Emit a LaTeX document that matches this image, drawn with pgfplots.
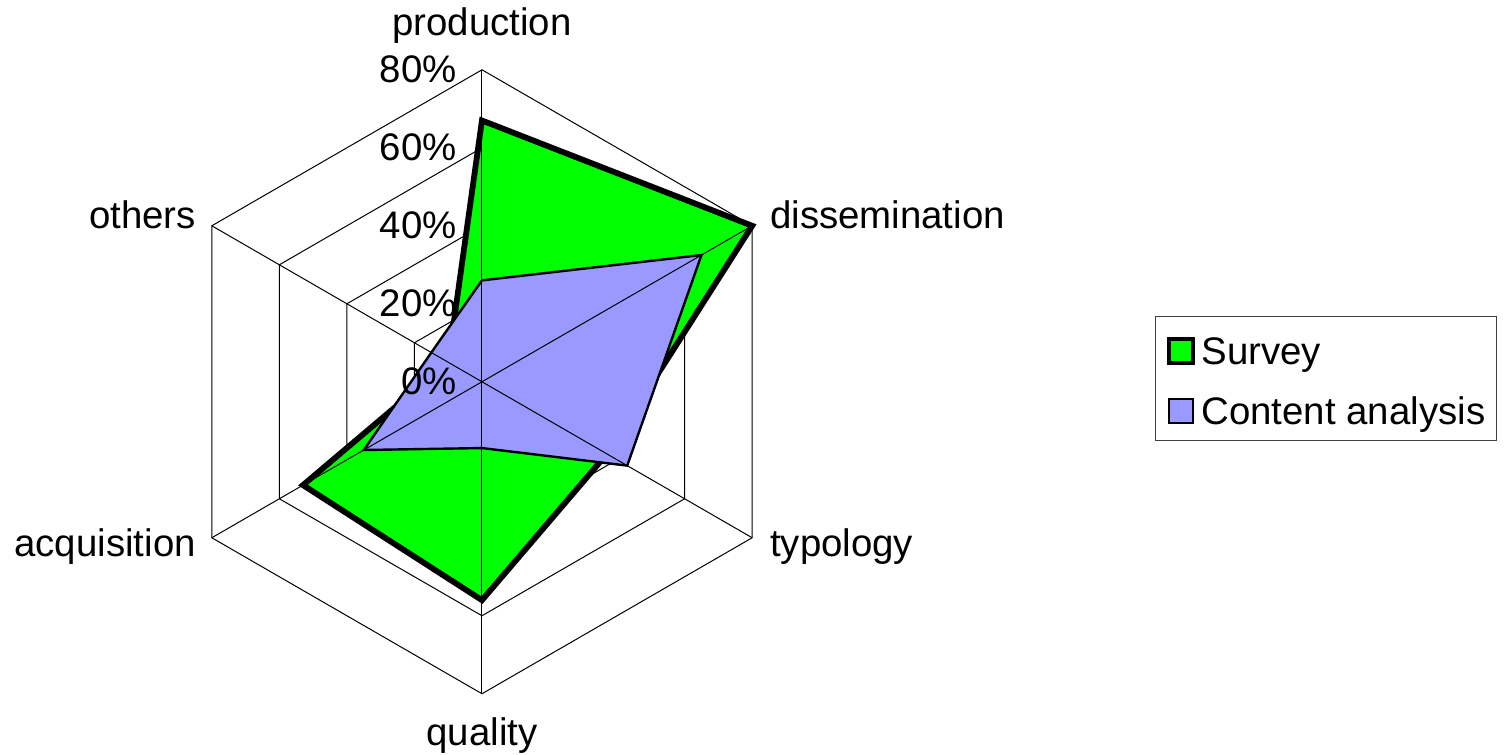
\documentclass[border=0pt]{standalone}
\usepackage{fontspec}
\setmainfont{Liberation Sans}
\usepackage{pgfplots}
\pgfplotsset{compat=1.18}
\definecolor{survey}{HTML}{00FF00}
\definecolor{content}{HTML}{9999FF}
\newcommand{\lbl}{\fontsize{19.2pt}{23pt}\selectfont}
\pgfplotsset{gridline/.style={black, line width=0.5pt, data cs=polar, forget plot, mark=none}}
\begin{document}
\begin{tikzpicture}
\begin{axis}[
  x=1.95pt, y=1.95pt,
  xmin=-123.6, xmax=262.6, ymin=-95.6, ymax=97.9,
  hide axis, clip=false,
  legend style={at={(axis cs:172.6,16.9)}, anchor=north west, draw=black!75, line width=0.5pt,
    font=\lbl, inner xsep=5.5pt, inner ysep=8pt, row sep=13.5pt, column sep=3.5pt,
    cells={anchor=base west}, nodes={inner sep=0pt, text height=16pt, text depth=0pt}},
]
\coordinate (ll) at (axis cs:-123.6,-95.6);
\coordinate (ur) at (axis cs:262.6,97.9);
% hexagonal grid
\addplot[gridline] coordinates {(90,20) (30,20) (-30,20) (-90,20) (-150,20) (150,20)} -- cycle;
\addplot[gridline] coordinates {(90,40) (30,40) (-30,40) (-90,40) (-150,40) (150,40)} -- cycle;
\addplot[gridline] coordinates {(90,60) (30,60) (-30,60) (-90,60) (-150,60) (150,60)} -- cycle;
\addplot[gridline] coordinates {(90,80) (30,80) (-30,80) (-90,80) (-150,80) (150,80)} -- cycle;
% series (angle, percent): production, dissemination, typology, quality, acquisition, others
\addplot[fill=survey, draw=black, line width=2.9pt, line join=miter, data cs=polar, mark=none,
  legend image code/.code={\draw[fill=survey,draw=black,line width=2pt] (0.5pt,0.5pt) rectangle (12.5pt,12.5pt);}]
  coordinates {(90,67) (30,80) (-30,37) (-90,56) (-150,53) (150,10)} -- cycle;
\addlegendentry{Survey}
\addplot[fill=content, draw=black, line width=1.2pt, line join=miter, data cs=polar, mark=none,
  legend image code/.code={\draw[fill=content,draw=black,line width=1pt] (0.5pt,0.5pt) rectangle (12.5pt,12.5pt);}]
  coordinates {(90,26) (30,65) (-30,43) (-90,17) (-150,35) (150,15)} -- cycle;
\addlegendentry{Content analysis}
% spokes
\addplot[gridline] coordinates {(90,80) (-90,80)};
\addplot[gridline] coordinates {(30,80) (-150,80)};
\addplot[gridline] coordinates {(150,80) (-30,80)};
% radial tick labels
\node[anchor=base east, font=\lbl, inner sep=0pt] at (axis cs:-6.4,76.8) {80\%};
\node[anchor=base east, font=\lbl, inner sep=0pt] at (axis cs:-6.4,56.8) {60\%};
\node[anchor=base east, font=\lbl, inner sep=0pt] at (axis cs:-6.4,36.8) {40\%};
\node[anchor=base east, font=\lbl, inner sep=0pt] at (axis cs:-6.4,16.8) {20\%};
\node[anchor=base east, font=\lbl, inner sep=0pt] at (axis cs:-6.4,-3.2) {0\%};
% category labels
\node[anchor=base, font=\lbl, inner sep=0pt] at (axis cs:0,88.7) {production};
\node[anchor=base west, font=\lbl, inner sep=0pt] at (axis cs:73.8,39.2) {dissemination};
\node[anchor=base west, font=\lbl, inner sep=0pt] at (axis cs:73.8,-44.9) {typology};
\node[anchor=base, font=\lbl, inner sep=0pt] at (axis cs:0,-93.3) {quality};
\node[anchor=base east, font=\lbl, inner sep=0pt] at (axis cs:-73.3,-44.9) {acquisition};
\node[anchor=base east, font=\lbl, inner sep=0pt] at (axis cs:-73.3,39.2) {others};
\end{axis}
\pgfresetboundingbox
\path (ll) rectangle (ur);
\end{tikzpicture}
\end{document}
